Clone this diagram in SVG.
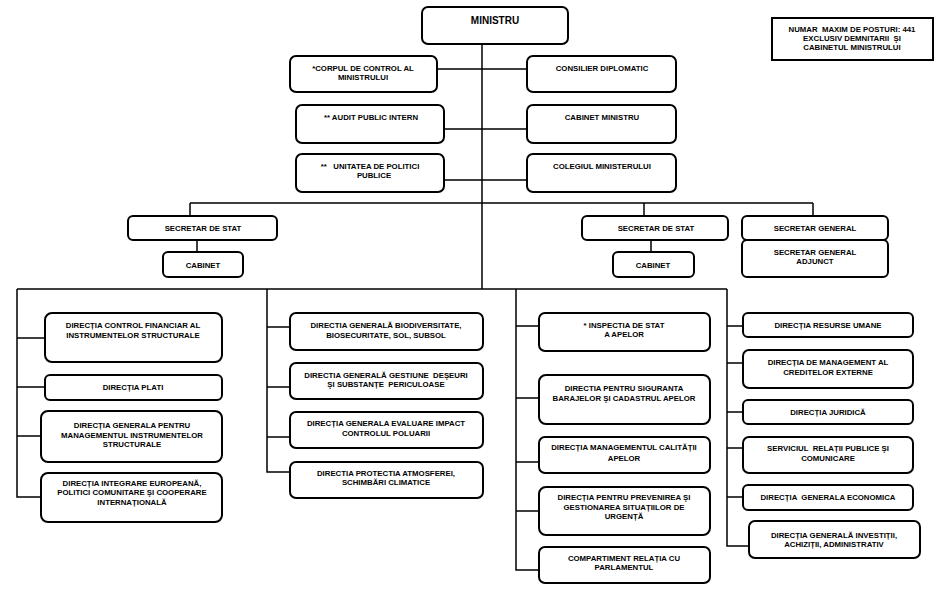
<svg xmlns="http://www.w3.org/2000/svg" width="941" height="595" viewBox="0 0 941 595">
<style>
.b{fill:#fff;stroke:#000;stroke-width:2}
.n{fill:#fff;stroke:#000;stroke-width:2}
.l{stroke:#000;stroke-width:1.5;fill:none}
text{font-family:"Liberation Sans",Arial,sans-serif;font-weight:bold;font-size:7.8px;text-anchor:middle;fill:#000}
.t{font-size:10px}
</style>
<rect width="941" height="595" fill="#fff"/>
<g id="connectors">
<path class="l" d="M482 44V289"/>
<path class="l" d="M437 69H527M444 129H527M444 180H527"/>
<path class="l" d="M190 203H813M190 203V216M644 203V216M813 203V216"/>
<path class="l" d="M197 240V252M651 240V252"/>
<path class="l" d="M17 289H727"/>
<path class="l" d="M17 289V497H41M17 338H45M17 387H45M17 436H41"/>
<path class="l" d="M267 289V472H290M267 327H290M267 387H290M267 437H290"/>
<path class="l" d="M516 289V570H539M516 326H539M516 398H539M516 462H539M516 511H539"/>
<path class="l" d="M727 289V546H749M727 326H743M727 363H743M727 412H743M727 448H743M727 497H743"/>
</g>
<g id="ministru"><rect class="b" x="422" y="7" width="146" height="37" rx="6"/><text class="t" x="495" y="24">MINISTRU</text></g>
<g id="nota"><rect class="n" x="772" y="18" width="161" height="42"/><text x="852" y="32" xml:space="preserve">NUMAR  MAXIM DE POSTURI: 441</text><text x="852" y="41" xml:space="preserve">EXCLUSIV DEMNITARII  ŞI</text><text x="852" y="50">CABINETUL MINISTRULUI</text></g>
<g id="corpul"><rect class="b" x="290" y="56" width="147" height="36" rx="6"/><text x="363" y="71">*CORPUL DE CONTROL AL</text><text x="363" y="80">MINISTRULUI</text></g>
<g id="consilier"><rect class="b" x="527" y="56" width="149" height="36" rx="6"/><text x="602" y="71">CONSILIER DIPLOMATIC</text></g>
<g id="audit"><rect class="b" x="296" y="105" width="148" height="38" rx="6"/><text x="371" y="120">** AUDIT PUBLIC INTERN</text></g>
<g id="cabinet-ministru"><rect class="b" x="527" y="105" width="149" height="38" rx="6"/><text x="602" y="120">CABINET MINISTRU</text></g>
<g id="unitatea"><rect class="b" x="296" y="154" width="148" height="38" rx="6"/><text x="370" y="169" xml:space="preserve">**   UNITATEA DE POLITICI</text><text x="374" y="178">PUBLICE</text></g>
<g id="colegiul"><rect class="b" x="527" y="154" width="149" height="38" rx="6"/><text x="602" y="169">COLEGIUL MINISTERULUI</text></g>
<g id="ss1"><rect class="b" x="128" y="216" width="149" height="24" rx="5"/><text x="203" y="231">SECRETAR DE STAT</text></g>
<g id="cab1"><rect class="b" x="163" y="252" width="80" height="25" rx="5"/><text x="203" y="268">CABINET</text></g>
<g id="ss2"><rect class="b" x="582" y="216" width="146" height="24" rx="5"/><text x="656" y="231">SECRETAR DE STAT</text></g>
<g id="cab2"><rect class="b" x="613" y="252" width="81" height="25" rx="5"/><text x="653" y="268">CABINET</text></g>
<g id="sg"><rect class="b" x="742" y="216" width="146" height="24" rx="5"/><text x="815" y="231">SECRETAR GENERAL</text></g>
<g id="sga"><rect class="b" x="742" y="240" width="146" height="37" rx="5"/><text x="815" y="255">SECRETAR GENERAL</text><text x="815" y="264">ADJUNCT</text></g>
<g id="c1a"><rect class="b" x="45" y="313" width="177" height="49" rx="7"/><text x="133" y="328">DIRECȚIA CONTROL FINANCIAR AL</text><text x="133" y="338">INSTRUMENTELOR STRUCTURALE</text></g>
<g id="c1b"><rect class="b" x="45" y="375" width="177" height="25" rx="5"/><text x="133" y="390">DIRECȚIA PLATI</text></g>
<g id="c1c"><rect class="b" x="41" y="411" width="181" height="51" rx="7"/><text x="132" y="428">DIRECȚIA GENERALA PENTRU</text><text x="132" y="438">MANAGEMENTUL INSTRUMENTELOR</text><text x="132" y="447">STRUCTURALE</text></g>
<g id="c1d"><rect class="b" x="41" y="473" width="181" height="49" rx="7"/><text x="132" y="486">DIRECȚIA INTEGRARE EUROPEANĂ,</text><text x="132" y="495">POLITICI COMUNITARE ŞI COOPERARE</text><text x="132" y="505">INTERNAȚIONALĂ</text></g>
<g id="c2a"><rect class="b" x="290" y="313" width="193" height="37" rx="6"/><text x="386" y="328">DIRECTIA GENERALĂ BIODIVERSITATE,</text><text x="386" y="338">BIOSECURITATE, SOL, SUBSOL</text></g>
<g id="c2b"><rect class="b" x="290" y="363" width="193" height="36" rx="6"/><text x="386" y="378" xml:space="preserve">DIRECTIA GENERALĂ GESTIUNE  DEŞEURI</text><text x="386" y="387" xml:space="preserve">ŞI SUBSTANȚE  PERICULOASE</text></g>
<g id="c2c"><rect class="b" x="290" y="412" width="193" height="36" rx="6"/><text x="386" y="426">DIRECȚIA GENERALA EVALUARE IMPACT</text><text x="386" y="436">CONTROLUL POLUARII</text></g>
<g id="c2d"><rect class="b" x="290" y="462" width="193" height="36" rx="6"/><text x="386" y="476">DIRECTIA PROTECTIA ATMOSFEREI,</text><text x="386" y="485">SCHIMBĂRI CLIMATICE</text></g>
<g id="c3a"><rect class="b" x="539" y="313" width="171" height="38" rx="6"/><text x="624" y="328">* INSPECTIA DE STAT</text><text x="624" y="337">A APELOR</text></g>
<g id="c3b"><rect class="b" x="539" y="375" width="171" height="49" rx="7"/><text x="624" y="391">DIRECTIA PENTRU SIGURANTA</text><text x="624" y="401">BARAJELOR ŞI CADASTRUL APELOR</text></g>
<g id="c3c"><rect class="b" x="539" y="437" width="171" height="36" rx="6"/><text x="624" y="450">DIRECȚIA MANAGEMENTUL CALITĂȚII</text><text x="624" y="461">APELOR</text></g>
<g id="c3d"><rect class="b" x="539" y="487" width="171" height="48" rx="7"/><text x="624" y="500">DIRECȚIA PENTRU PREVENIREA ŞI</text><text x="624" y="510">GESTIONAREA SITUAȚIILOR DE</text><text x="624" y="519">URGENȚĂ</text></g>
<g id="c3e"><rect class="b" x="539" y="547" width="171" height="36" rx="6"/><text x="624" y="561">COMPARTIMENT RELAȚIA CU</text><text x="624" y="570">PARLAMENTUL</text></g>
<g id="c4a"><rect class="b" x="743" y="313" width="170" height="24" rx="5"/><text x="828" y="328">DIRECȚIA RESURSE UMANE</text></g>
<g id="c4b"><rect class="b" x="743" y="350" width="170" height="38" rx="6"/><text x="828" y="365">DIRECȚIA DE MANAGEMENT AL</text><text x="828" y="375">CREDITELOR EXTERNE</text></g>
<g id="c4c"><rect class="b" x="743" y="400" width="170" height="24" rx="5"/><text x="828" y="415">DIRECȚIA JURIDICĂ</text></g>
<g id="c4d"><rect class="b" x="743" y="437" width="170" height="36" rx="6"/><text x="828" y="451" xml:space="preserve">SERVICIUL  RELAȚII PUBLICE ŞI</text><text x="828" y="461">COMUNICARE</text></g>
<g id="c4e"><rect class="b" x="743" y="485" width="170" height="25" rx="5"/><text x="828" y="500" xml:space="preserve">DIRECȚIA  GENERALA ECONOMICA</text></g>
<g id="c4f"><rect class="b" x="749" y="521" width="171" height="37" rx="6"/><text x="834" y="538">DIRECȚIA GENERALĂ INVESTIȚII,</text><text x="834" y="547">ACHIZIȚII, ADMINISTRATIV</text></g>
</svg>
